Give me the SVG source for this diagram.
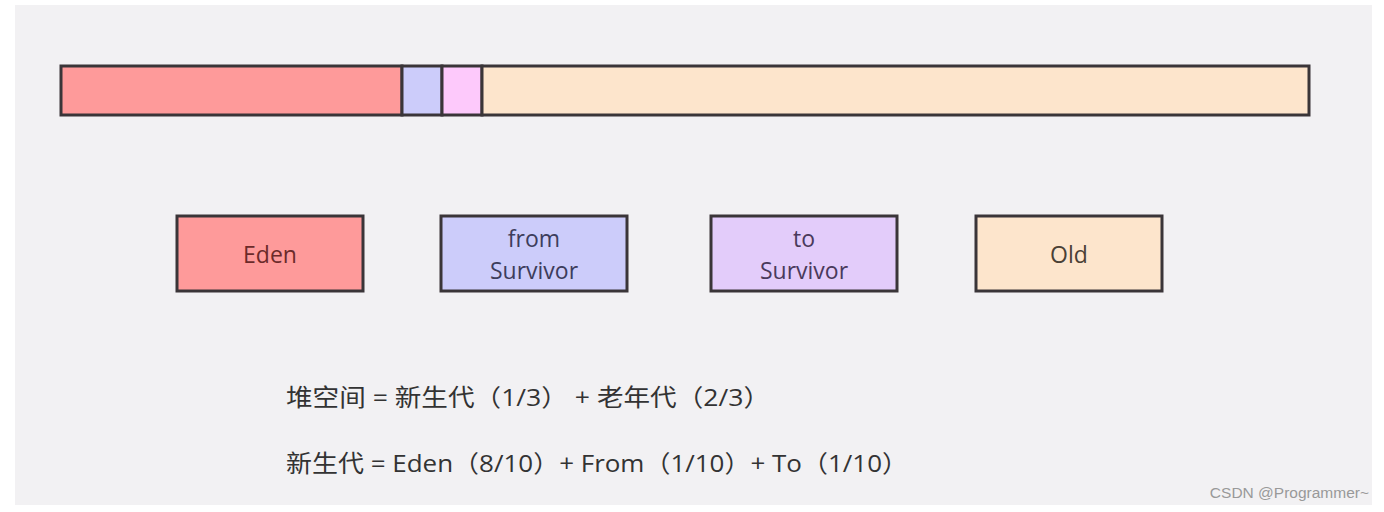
<svg xmlns="http://www.w3.org/2000/svg" width="1384" height="512" viewBox="0 0 1384 512">
<style>
.b{stroke:#3a3538;stroke-width:3}
.t{font-family:"Open Sans","Liberation Sans",sans-serif;font-size:23px;text-anchor:middle}
.f{font-family:"Open Sans","Noto Sans CJK SC",sans-serif;font-size:24px;fill:#333}
</style>
<rect width="1384" height="512" fill="#fff"/>
<rect x="15" y="5" width="1357" height="500" fill="#f2f1f3"/>
<g id="bar">
<rect class="b" x="61" y="66" width="341" height="49" fill="#fe9a9a"/>
<rect class="b" x="402" y="66" width="40" height="49" fill="#ccccfa"/>
<rect class="b" x="442" y="66" width="40" height="49" fill="#fdc9fb"/>
<rect class="b" x="482" y="66" width="827" height="49" fill="#fde5cc"/>
</g>
<g id="eden"><rect class="b" x="177" y="216" width="186" height="75" fill="#fe9a9a"/><text class="t" x="270" y="263" fill="#6b2a2a">Eden</text></g>
<g id="from"><rect class="b" x="441" y="216" width="186" height="75" fill="#ccccfa"/><text class="t" x="534" y="247" fill="#3d3d5c">from</text><text class="t" x="534" y="279" fill="#3d3d5c">Survivor</text></g>
<g id="to"><rect class="b" x="711" y="216" width="186" height="75" fill="#e3ccfa"/><text class="t" x="804" y="247" fill="#4a3a5c">to</text><text class="t" x="804" y="279" fill="#4a3a5c">Survivor</text></g>
<g id="old"><rect class="b" x="976" y="216" width="186" height="75" fill="#fde5cc"/><text class="t" x="1069" y="263" fill="#4a4036">Old</text></g>
<g id="connectors"/>
<text class="f" x="286" y="406" textLength="484" lengthAdjust="spacingAndGlyphs">堆空间 = 新生代（1/3） + 老年代（2/3）</text>
<text class="f" x="286" y="472" textLength="622" lengthAdjust="spacingAndGlyphs">新生代 = Eden（8/10）+ From（1/10）+ To（1/10）</text>
<text x="1369" y="498" text-anchor="end" font-family="Liberation Sans,sans-serif" font-size="15.5" fill="#999">CSDN @Programmer~</text>
</svg>
